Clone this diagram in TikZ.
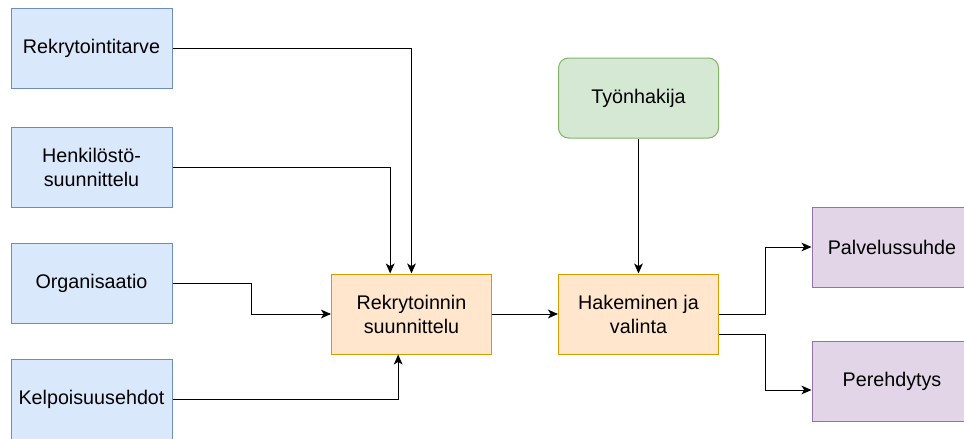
\documentclass[tikz,border=0pt]{standalone}
\usepackage{fontspec}
\setmainfont{Liberation Sans}
\usetikzlibrary{arrows.meta}
\definecolor{bfill}{HTML}{DAE8FC}
\definecolor{bdraw}{HTML}{6C8EBF}
\definecolor{ofill}{HTML}{FFE6CC}
\definecolor{odraw}{HTML}{D79B00}
\definecolor{gfill}{HTML}{D5E8D4}
\definecolor{gdraw}{HTML}{82B366}
\definecolor{pfill}{HTML}{E1D5E7}
\definecolor{pdraw}{HTML}{9673A6}

\begin{document}

\begin{tikzpicture}[x=0.75pt,y=-0.75pt,
  base/.style={draw, line width=0.75pt, minimum width=120pt, minimum height=60pt,
    inner sep=2pt, align=center, font=\fontsize{14.8}{18}\selectfont, text=black},
  bluebox/.style={base, fill=bfill, draw=bdraw, minimum width=120.75pt},
  orangebox/.style={base, fill=ofill, draw=odraw},
  greenbox/.style={base, fill=gfill, draw=gdraw, rounded corners=7.5pt},
  purplebox/.style={base, fill=pfill, draw=pdraw},
  arr/.style={draw=black, line width=0.75pt, -{Stealth[length=7.5pt,width=6.5pt,inset=2pt]}}]
\useasboundingbox (0,0) rectangle (964,439);
\clip (0,0) rectangle (964,439);
\node[bluebox] (r1) at (91.5,48.5) {Rekrytointitarve};
\node[bluebox] (r2) at (91.5,167) {Henkilöstö-\\suunnittelu};
\node[bluebox] (r3) at (91.5,283) {Organisaatio};
\node[bluebox] (r4) at (91.5,399) {Kelpoisuusehdot};
\node[orangebox] (rs) at (411.5,314) {Rekrytoinnin\\suunnittelu};
\node[orangebox] (hv) at (638.5,314) {Hakeminen ja\\valinta};
\node[greenbox] (ty) at (638.5,98) {Työnhakija};
\node[purplebox] (ps) at (892,247) {Palvelussuhde};
\node[purplebox] (pe) at (892,381) {Perehdytys};
\draw[arr] (r1.east) -| (rs.north);
\draw[arr] (r2.east) -| ([xshift=-16pt]rs.north);
\draw[arr] (r3.east) -- ++(79,0) |- (rs.west);
\draw[arr] (r4.east) -| ([xshift=-10pt]rs.south);
\draw[arr] (rs.east) -- (hv.west);
\draw[arr] (ty.south) -- (hv.north);
\draw[arr] (hv.east) -- ++(46,0) |- (ps.west);
\draw[arr] ([yshift=-15pt]hv.east) -- ++(46,0) |- ([yshift=-6.75pt]pe.west);
\end{tikzpicture}

\end{document}
